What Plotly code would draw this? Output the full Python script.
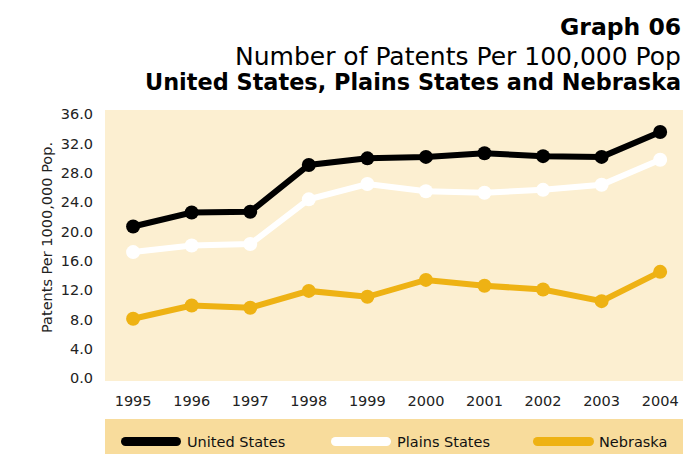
import plotly.graph_objects as go

years = [1995, 1996, 1997, 1998, 1999, 2000, 2001, 2002, 2003, 2004]
us = [20.7, 22.6, 22.7, 29.1, 30.0, 30.2, 30.7, 30.3, 30.2, 33.6]
plains = [17.2, 18.1, 18.3, 24.4, 26.5, 25.5, 25.3, 25.7, 26.4, 29.8]
nebraska = [8.1, 9.9, 9.6, 11.9, 11.1, 13.4, 12.6, 12.1, 10.5, 14.5]
series_names = ["United States", "Plains States", "Nebraska"]
y_ticks = [0, 4, 8, 12, 16, 20, 24, 28, 32, 36]

colors = ["#000000", "#ffffff", "#eeb214"]
FONT = "DejaVu Sans, Verdana, sans-serif"

fig = go.Figure()
for name, vals, col in zip(series_names, [us, plains, nebraska], colors):
    fig.add_trace(go.Scatter(
        x=years, y=vals, name=name, mode="lines+markers",
        line=dict(color=col, width=6),
        marker=dict(color=col, size=14),
        showlegend=False,
    ))

W, H = 686, 454
L, R, T, B = 105, 3, 110, 73
pw, ph = W - L - R, H - T - B

def px(xp):
    return (xp - L) / pw

def py(yp):
    return (H - B - yp) / ph

annotations = [
    dict(text="<b>Graph 06</b>", x=1, y=py(27), xanchor="right", yanchor="middle",
         font=dict(size=23.5, color="#000", family=FONT)),
    dict(text="Number of Patents Per 100,000 Pop", x=1, y=py(57), xanchor="right", yanchor="middle",
         font=dict(size=25, color="#000", family=FONT)),
    dict(text="<b>United States, Plains States and Nebraska</b>", x=1, y=py(82), xanchor="right",
         yanchor="middle", font=dict(size=22.4, color="#000", family=FONT)),
    dict(text="Patents Per 1000,000 Pop.", x=px(47), y=py(238), textangle=-90,
         xanchor="center", yanchor="middle", font=dict(size=14.5, color="#222", family=FONT)),
]

shapes = [dict(type="rect", xref="paper", yref="paper", x0=0, x1=1, y0=py(455), y1=py(419),
               fillcolor="#f8dc9c", line=dict(width=0), layer="below")]

leg_y = 441.5
leg_w = 9
leg_x = [(121, 181, 185), (331, 391, 395), (533, 594, 597)]
for (x0, x1, xt), name, col in zip(leg_x, series_names, colors):
    r = leg_w / 2
    shapes.append(dict(type="line", xref="paper", yref="paper", x0=px(x0 + r), x1=px(x1 - r),
                       y0=py(leg_y), y1=py(leg_y), line=dict(color=col, width=leg_w)))
    for xc in (x0 + r, x1 - r):
        shapes.append(dict(type="circle", xref="paper", yref="paper",
                           xsizemode="pixel", ysizemode="pixel",
                           xanchor=px(xc), yanchor=py(leg_y),
                           x0=-r, x1=r, y0=-r, y1=r,
                           fillcolor=col, line=dict(width=0)))
    annotations.append(dict(text=name, x=px(xt), y=py(leg_y), xanchor="left", yanchor="middle",
                            font=dict(size=14.5, color="#111", family=FONT)))

for a in annotations:
    a.update(xref="paper", yref="paper", showarrow=False)

fig.update_layout(
    width=W, height=H,
    margin=dict(l=L, r=R, t=T, b=B),
    paper_bgcolor="#ffffff",
    plot_bgcolor="#fcefd1",
    annotations=annotations,
    shapes=shapes,
    font=dict(family=FONT, size=14.5, color="#222"),
    xaxis=dict(
        range=[1994.52, 2004.39], tickvals=years, ticktext=[str(y) for y in years],
        showgrid=False, zeroline=False, showline=False,
        ticks="outside", ticklen=7, tickcolor="rgba(0,0,0,0)",
        tickfont=dict(size=14.5, family=FONT, color="#222"),
    ),
    yaxis=dict(
        range=[-0.4, 36.6], tickvals=y_ticks, ticktext=[f"{v:.1f}" for v in y_ticks],
        showgrid=False, zeroline=False, showline=False,
        ticks="outside", ticklen=8, tickcolor="rgba(0,0,0,0)",
        tickfont=dict(size=14.5, family=FONT, color="#222"),
    ),
)

fig.write_html("out.html", config={"displayModeBar": False},
               post_script="document.body.style.margin='0';document.body.style.overflow='hidden';")
